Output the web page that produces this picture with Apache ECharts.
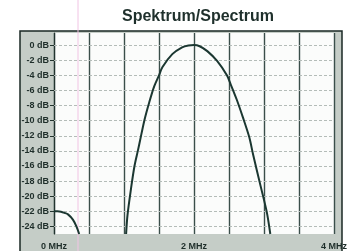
<!DOCTYPE html>
<html><head><meta charset="utf-8">
<script src="https://cdn.jsdelivr.net/npm/echarts@6/dist/echarts.min.js"></script>
<style>html,body{margin:0;padding:0;background:#fff}#c{width:350px;height:251px}</style>
</head><body><div id="c"></div>
<script>
// Main lobe (MHz, dB)
var mainFreq = [1.03, 1.05, 1.10, 1.15, 1.20, 1.23, 1.29, 1.36, 1.43, 1.50, 1.55, 1.69, 1.83, 1.92, 2.00, 2.08, 2.19, 2.33, 2.47, 2.52, 2.61, 2.70, 2.79, 2.84, 2.95, 3.04, 3.09];
var mainDb   = [-25, -22.5, -19.0, -16.0, -13.9, -12.6, -10.0, -7.6, -5.5, -4.0, -2.9, -1.2, -0.3, -0.05, 0, -0.15, -0.8, -2.1, -4.0, -5.1, -7.2, -9.6, -12.2, -14.3, -18.6, -22.1, -25];
// Side lobe near 0 MHz
var sideFreq = [0, 0.05, 0.10, 0.15, 0.20, 0.27, 0.32, 0.36];
var sideDb   = [-22, -22, -22.05, -22.2, -22.4, -23.1, -24.0, -25];
// Tick labels
var yTicks = [0, -2, -4, -6, -8, -10, -12, -14, -16, -18, -20, -22, -24];
var xLabelTicks = [0, 2, 4];

function pairs(a, b) { return a.map(function (v, i) { return [v, b[i]]; }); }

var chart = echarts.init(document.getElementById('c'));
var lbl = {fontFamily: '"Liberation Sans Narrow","Liberation Sans",Arial,sans-serif', fontWeight: 'bold', color: '#1e2e2a'};
chart.setOption({
  animation: false,
  title: {
    text: 'Spektrum/Spectrum', left: 117, top: 4,
    textStyle: {fontFamily: '"Liberation Sans",Arial,sans-serif', fontSize: 16, fontWeight: 'bold', color: '#1f302c'}
  },
  graphic: [
    {type: 'rect', z: -10, shape: {x: 20, y: 31, width: 322, height: 226},
     style: {fill: '#c5cdc7', stroke: '#1a2825', lineWidth: 1.5}},
    {type: 'line', z: 1, shape: {x1: 78, y1: 0, x2: 78, y2: 251},
     style: {stroke: '#f1c4e4', lineWidth: 1}}
  ],
  grid: {left: 54, right: 14, top: 33, bottom: 12, show: true, backgroundColor: '#fbfcfb', borderWidth: 0},
  xAxis: {
    type: 'value', min: 0, max: 4, interval: 0.5,
    axisLine: {show: false},
    axisTick: {show: false},
    splitLine: {show: true, lineStyle: {color: '#3a4e4a', width: 1.4}},
    axisLabel: Object.assign({fontSize: 9, margin: 8, formatter: function (v) {
      return xLabelTicks.indexOf(v) >= 0 ? v + ' MHz' : '';
    }}, lbl)
  },
  yAxis: {
    type: 'value', min: -25, max: 1.6,
    axisLine: {show: true, lineStyle: {color: '#22342f', width: 1.2}},
    axisTick: {show: true, length: 4, customValues: yTicks, lineStyle: {color: '#22342f'}},
    splitLine: {show: false},
    axisLabel: Object.assign({fontSize: 9, margin: 5, customValues: yTicks, formatter: function (v) { return v + ' dB'; }}, lbl)
  },
  series: [
    {type: 'line', data: [], symbol: 'none', silent: true,
     markLine: {silent: true, symbol: 'none', label: {show: false},
       lineStyle: {color: '#b4bcb8', width: 1, type: [3, 2]},
       data: yTicks.map(function (v) { return {yAxis: v}; })}},
    {type: 'line', data: pairs(mainFreq, mainDb), symbol: 'none', smooth: 0.3, z: 5,
     lineStyle: {color: '#1b3731', width: 2}},
    {type: 'line', data: pairs(sideFreq, sideDb), symbol: 'none', smooth: 0.3, z: 5,
     lineStyle: {color: '#1b3731', width: 2}}
  ]
});
</script></body></html>
